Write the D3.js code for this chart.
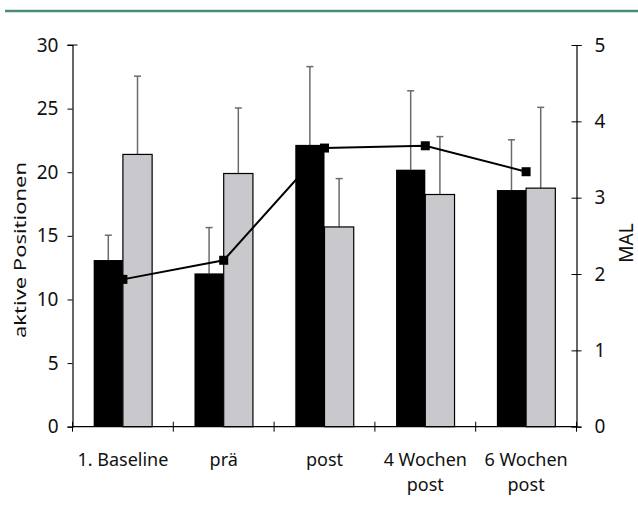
<!DOCTYPE html>
<html lang="de">
<head>
<meta charset="UTF-8">
<title>aktive Positionen / MAL</title>
<script src="https://d3js.org/d3.v7.min.js"></script>
<style>
  body { margin: 0; padding: 0; background: #fff; }
  svg { display: block; }
  text { font-family: "Noto Sans", "Liberation Sans", sans-serif; fill: #111; }
</style>
</head>
<body>
<div id="chart"></div>
<script>
  // categories (second line of label after \n)
  var categories = ['1. Baseline', 'prä', 'post', '4 Wochen\npost', '6 Wochen\npost'];
  // black bars (aktive Positionen, group 1) and their upper error
  var blackValues = [13.1, 12.05, 22.15, 20.2, 18.6];
  var blackErrTop = [15.05, 15.65, 28.3, 26.4, 22.55];
  // grey bars (group 2)
  var greyValues = [21.4, 19.9, 15.7, 18.25, 18.75];
  var greyErrTop = [27.55, 25.05, 19.5, 22.8, 25.1];
  // MAL line (right axis)
  var malValues = [1.93, 2.18, 3.65, 3.68, 3.34];
  var leftTicks = [0, 5, 10, 15, 20, 25, 30];
  var rightTicks = [0, 1, 2, 3, 4, 5];

  var width = 638, height = 515;
  var margin = {left: 72.5, right: 61.5, top: 45, bottom: 88.3};

  var svg = d3.select('#chart').append('svg')
    .attr('width', width)
    .attr('height', height);

  // teal header rule
  svg.append('line')
    .attr('x1', 5).attr('x2', width)
    .attr('y1', 11).attr('y2', 11)
    .attr('stroke', '#4b8a7b')
    .attr('stroke-width', 2.5);

  var x = d3.scaleBand()
    .domain(categories)
    .range([margin.left, width - margin.right]);
  var yLeft = d3.scaleLinear().domain([0, 30]).range([height - margin.bottom, margin.top]);
  var yRight = d3.scaleLinear().domain([0, 5]).range([height - margin.bottom, margin.top]);

  var barW = x.bandwidth() * 0.29;
  var y0 = yLeft(0);

  function center(d) { return x(d) + x.bandwidth() / 2; }

  // error bars (upward only), drawn behind bars
  var errG = svg.append('g').attr('stroke', '#6b6b6b').attr('stroke-width', 1.5);
  function drawErr(vals, tops, offset) {
    categories.forEach(function(c, i) {
      var cx = center(c) + offset;
      errG.append('line')
        .attr('x1', cx).attr('x2', cx)
        .attr('y1', yLeft(vals[i])).attr('y2', yLeft(tops[i]));
      errG.append('line')
        .attr('x1', cx - 3.5).attr('x2', cx + 3.5)
        .attr('y1', yLeft(tops[i])).attr('y2', yLeft(tops[i]));
    });
  }
  drawErr(blackValues, blackErrTop, -barW / 2);
  drawErr(greyValues, greyErrTop, barW / 2);

  // bars
  svg.append('g').selectAll('rect')
    .data(blackValues)
    .enter().append('rect')
    .attr('x', function(d, i) { return center(categories[i]) - barW; })
    .attr('y', function(d) { return yLeft(d); })
    .attr('width', barW)
    .attr('height', function(d) { return y0 - yLeft(d); })
    .attr('fill', '#000');

  svg.append('g').selectAll('rect')
    .data(greyValues)
    .enter().append('rect')
    .attr('x', function(d, i) { return center(categories[i]); })
    .attr('y', function(d) { return yLeft(d); })
    .attr('width', barW)
    .attr('height', function(d) { return y0 - yLeft(d); })
    .attr('fill', '#c9c8cd')
    .attr('stroke', '#000')
    .attr('stroke-width', 1.2);

  // MAL line and markers
  var line = d3.line()
    .x(function(d, i) { return center(categories[i]); })
    .y(function(d) { return yRight(d); });
  svg.append('path')
    .datum(malValues)
    .attr('d', line)
    .attr('fill', 'none')
    .attr('stroke', '#000')
    .attr('stroke-width', 2);
  svg.append('g').selectAll('rect')
    .data(malValues)
    .enter().append('rect')
    .attr('x', function(d, i) { return center(categories[i]) - 4.5; })
    .attr('y', function(d) { return yRight(d) - 4.5; })
    .attr('width', 9).attr('height', 9)
    .attr('fill', '#000');

  // left axis
  var leftAxis = svg.append('g')
    .attr('transform', 'translate(' + margin.left + ',0)')
    .call(d3.axisLeft(yLeft).tickValues(leftTicks).tickSize(5).tickPadding(9));
  leftAxis.select('.domain').attr('stroke', '#000').attr('stroke-width', 1.2);
  leftAxis.selectAll('.tick line').attr('stroke', '#000');
  leftAxis.selectAll('.tick text').style('font-size', '19px').attr('fill', '#111');
  leftAxis.append('line')
    .attr('x1', -5).attr('x2', 5)
    .attr('y1', yLeft(30)).attr('y2', yLeft(30))
    .attr('stroke', '#000');

  // right axis (ticks cross the line)
  var xr = width - margin.right;
  var rightAxis = svg.append('g')
    .attr('transform', 'translate(' + xr + ',0)')
    .call(d3.axisRight(yRight).tickValues(rightTicks).tickFormat(d3.format('d'))
      .tickSize(5).tickPadding(13));
  rightAxis.select('.domain').attr('stroke', '#000').attr('stroke-width', 1.2);
  rightAxis.selectAll('.tick line').attr('x1', -5).attr('stroke', '#000');
  rightAxis.selectAll('.tick text').style('font-size', '19px').attr('fill', '#111');

  // x axis with ticks at category boundaries
  var xAxis = svg.append('g');
  xAxis.append('line')
    .attr('x1', margin.left).attr('x2', xr)
    .attr('y1', y0).attr('y2', y0)
    .attr('stroke', '#000').attr('stroke-width', 1.2);
  var bounds = categories.map(function(c) { return x(c); }).concat([xr]);
  xAxis.selectAll('line.tk')
    .data(bounds)
    .enter().append('line')
    .attr('class', 'tk')
    .attr('x1', function(d) { return d; }).attr('x2', function(d) { return d; })
    .attr('y1', y0 - 5).attr('y2', y0 + 5)
    .attr('stroke', '#000');

  var labels = xAxis.selectAll('text.cat')
    .data(categories)
    .enter().append('text')
    .attr('class', 'cat')
    .attr('text-anchor', 'middle')
    .style('font-size', '18px');
  labels.each(function(d) {
    var t = d3.select(this);
    d.split('\n').forEach(function(part, k) {
      t.append('tspan')
        .attr('x', center(d))
        .attr('y', 466 + k * 24.5)
        .text(part);
    });
  });

  // axis titles
  svg.append('text')
    .attr('transform', 'translate(26,250) rotate(-90)')
    .attr('text-anchor', 'middle')
    .attr('textLength', 176)
    .attr('lengthAdjust', 'spacingAndGlyphs')
    .style('font-size', '17px')
    .text('aktive Positionen');

  svg.append('text')
    .attr('transform', 'translate(633,243) rotate(-90)')
    .attr('text-anchor', 'middle')
    .style('font-size', '19px')
    .text('MAL');
</script>
</body>
</html>
